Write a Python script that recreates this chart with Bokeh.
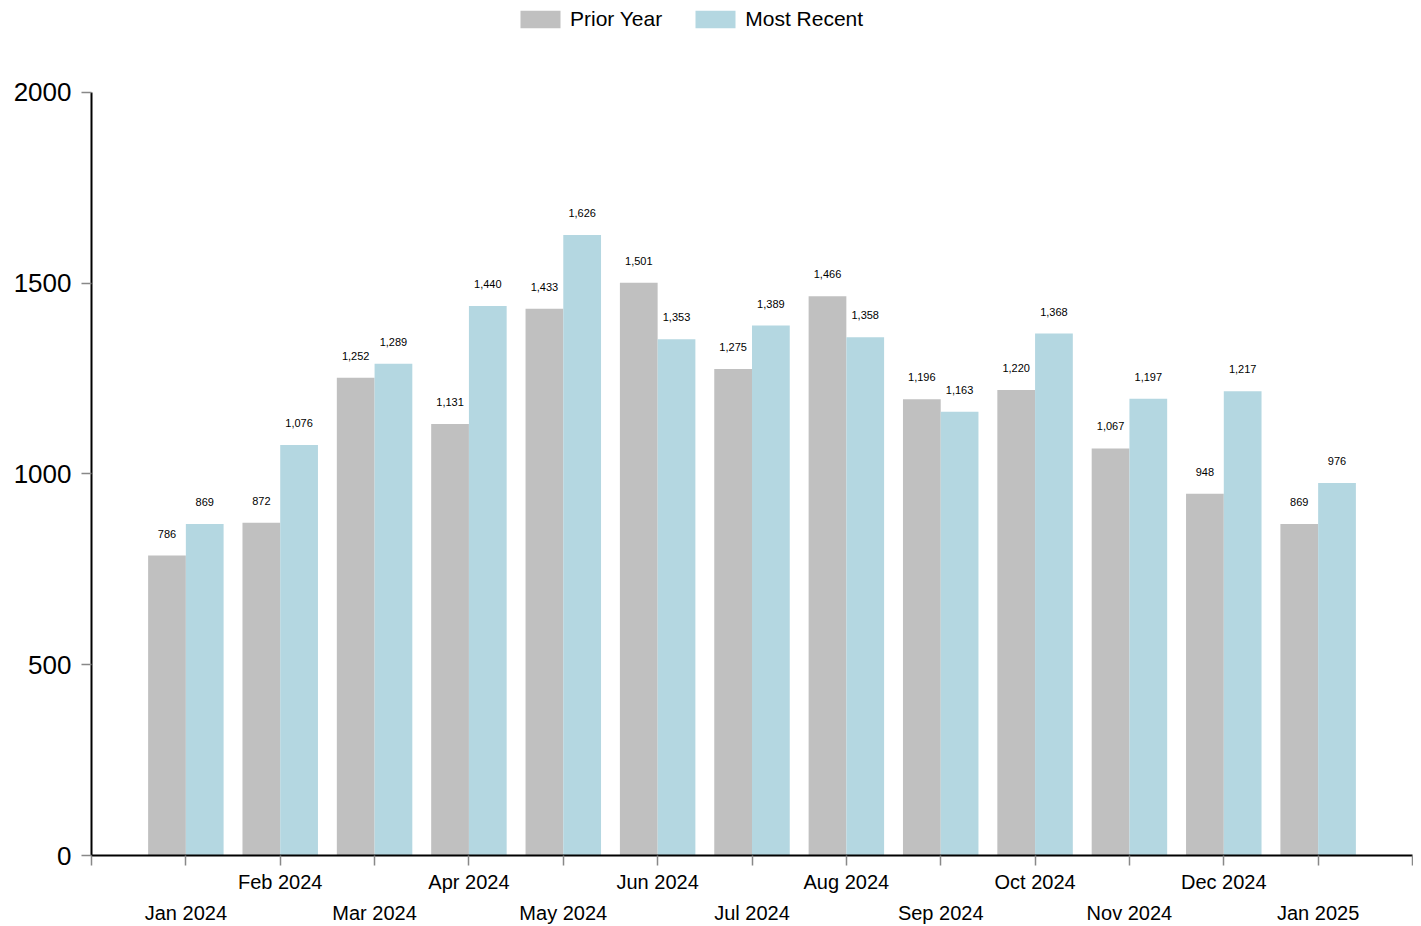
from bokeh.plotting import figure
from bokeh.models import (ColumnDataSource, Range1d, FixedTicker, LinearAxis,
                          Legend, LegendItem)
from bokeh.transform import dodge
from bokeh.embed import file_html
from bokeh.resources import INLINE

months = ["Jan 2024", "Feb 2024", "Mar 2024", "Apr 2024", "May 2024", "Jun 2024",
          "Jul 2024", "Aug 2024", "Sep 2024", "Oct 2024", "Nov 2024", "Dec 2024",
          "Jan 2025"]
prior_year = [786, 872, 1252, 1131, 1433, 1501, 1275, 1466, 1196, 1220, 1067, 948, 869]
most_recent = [869, 1076, 1289, 1440, 1626, 1353, 1389, 1358, 1163, 1368, 1197, 1217, 976]
y_ticks = [0, 500, 1000, 1500, 2000]
y_max = 2000

FONT = "Liberation Sans"
xs = list(range(1, len(months) + 1))
src = ColumnDataSource(dict(
    x=xs,
    prior=prior_year,
    recent=most_recent,
    prior_lbl=[f"{v:,}" for v in prior_year],
    recent_lbl=[f"{v:,}" for v in most_recent],
))

# frame extends above the y axis end so the legend can sit inside it
TOP = 2
AXIS_TOP = 92
FRAME_BOTTOM = 856
px_per_unit = (FRAME_BOTTOM - AXIS_TOP) / y_max
y_end = y_max + (AXIS_TOP - TOP) / px_per_unit

p = figure(width=1413, height=926, output_backend="svg", toolbar_location=None,
           x_range=Range1d(0, len(months) + 1), y_range=Range1d(0, y_end),
           min_border_left=91, min_border_right=1, min_border_top=TOP,
           min_border_bottom=60, x_axis_type=None, y_axis_type=None)
p.outline_line_color = None
p.background_fill_color = "white"
p.border_fill_color = "white"

r1 = p.vbar(x=dodge("x", -0.2, range=p.x_range), top="prior", width=0.4, bottom=0,
            source=src, fill_color="#c0c0c0", line_color=None)
r2 = p.vbar(x=dodge("x", 0.2, range=p.x_range), top="recent", width=0.4, bottom=0,
            source=src, fill_color="#b4d7e1", line_color=None)

common = dict(text_align="center", text_baseline="middle", text_font_size="11px",
              text_color="black", y_offset=-22, source=src)
p.text(x=dodge("x", -0.2, range=p.x_range), y="prior", text="prior_lbl",
       text_font={"value": FONT}, **common)
p.text(x=dodge("x", 0.2, range=p.x_range), y="recent", text="recent_lbl",
       text_font={"value": FONT}, **common)

# y axis
yax = LinearAxis(ticker=FixedTicker(ticks=y_ticks), bounds=(0, y_max))
yax.axis_line_color = "black"
yax.axis_line_width = 2
yax.major_tick_line_color = "#888888"
yax.major_tick_line_width = 1.5
yax.major_tick_out = 10
yax.major_tick_in = 0
yax.minor_tick_line_color = None
yax.major_label_standoff = 10
yax.major_label_text_font = FONT
yax.major_label_text_font_size = "26px"
yax.major_label_text_color = "black"
p.add_layout(yax, "left")

all_ticks = list(range(0, len(months) + 2))
upper = {t: "" for t in all_ticks}
lower = {t: "" for t in all_ticks}
for i, m in enumerate(months):
    if i % 2 == 1:
        upper[i + 1] = m
    else:
        lower[i + 1] = m

xax = LinearAxis(ticker=FixedTicker(ticks=all_ticks))
xax.major_label_overrides = upper
xax.axis_line_color = "black"
xax.axis_line_width = 2
xax.major_tick_line_color = "#888888"
xax.major_tick_line_width = 1.5
xax.major_tick_out = 10
xax.major_tick_in = 0
xax.minor_tick_line_color = None
xax.major_label_standoff = 5
xax.major_label_text_font = FONT
xax.major_label_text_font_size = "20px"
xax.major_label_text_color = "black"
p.add_layout(xax, "below")

xax2 = LinearAxis(ticker=FixedTicker(ticks=all_ticks))
xax2.major_label_overrides = lower
xax2.axis_line_color = None
xax2.major_tick_line_color = None
xax2.minor_tick_line_color = None
xax2.major_tick_out = 0
xax2.major_tick_in = 0
xax2.major_label_standoff = 6
xax2.major_label_text_font = FONT
xax2.major_label_text_font_size = "20px"
xax2.major_label_text_color = "black"
p.add_layout(xax2, "below")

legend = Legend(items=[LegendItem(label="Prior Year", renderers=[r1]),
                       LegendItem(label="Most Recent", renderers=[r2])],
                orientation="horizontal", location=(424, FRAME_BOTTOM - 32))
legend.label_text_font = FONT
legend.label_text_font_size = "21px"
legend.label_text_color = "black"
legend.glyph_width = 50
legend.glyph_height = 22
legend.label_height = 22
legend.label_standoff = 5
legend.spacing = 28
legend.padding = 0
legend.margin = 0
legend.border_line_color = None
legend.background_fill_alpha = 0
p.add_layout(legend, "center")

open("out.html", "w").write(file_html(p, INLINE))
